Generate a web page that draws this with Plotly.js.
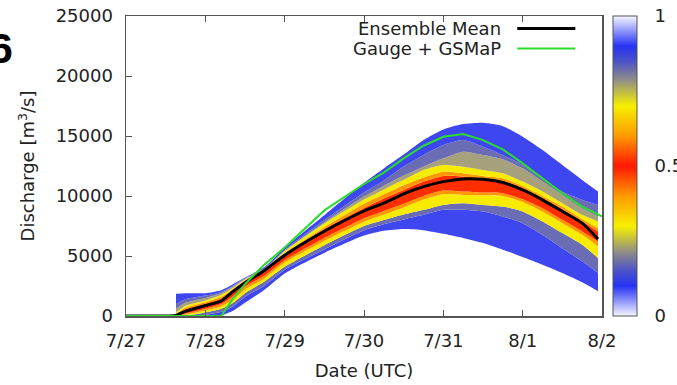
<!DOCTYPE html>
<html><head><meta charset="utf-8">
<script src="https://cdn.plot.ly/plotly-3.0.1.min.js"></script>
<style>html,body{margin:0;padding:0;background:#fff}#chart{width:677px;height:385px}</style>
</head><body><div id="chart"></div>
<script>
// x axis: days since 7/27 00 UTC
const tickDays = [0, 1, 2, 3, 4, 5, 6];
const tickLabels = ['7/27', '7/28', '7/29', '7/30', '7/31', '8/1', '8/2'];

// ensemble quantile envelopes (m3/s)
const bandTime = [0.63, 0.75, 1.0, 1.2, 1.35, 1.5, 1.75, 2.0, 2.5, 3.0, 3.25, 3.5, 3.75, 4.0, 4.25, 4.5, 4.75, 5.0, 5.25, 5.5, 5.75, 5.95];
const q00  = [0, 0, 0, 50, 440, 1100, 2215, 3544, 5260, 6700, 7100, 7250, 7150, 6850, 6500, 6077, 5523, 4914, 4278, 3585, 2810, 2063];
const q10  = [0, 0, 100, 350, 800, 1600, 2550, 3850, 5550, 7150, 7650, 8050, 8430, 8846, 8846, 8707, 8292, 7738, 6770, 5650, 4555, 3585];
const q20  = [0, 50, 300, 600, 1100, 1900, 2900, 4100, 5900, 7500, 8000, 8450, 8846, 9260, 9399, 9260, 9122, 8707, 7877, 6908, 5939, 4830];
const q30  = [0, 100, 450, 800, 1350, 2200, 3150, 4450, 6250, 7850, 8450, 9050, 9700, 10150, 10090, 10063, 10008, 9510, 8707, 7738, 6770, 5800];
const q40  = [0, 200, 600, 1000, 1650, 2450, 3400, 4650, 6500, 8150, 8750, 9350, 10000, 10450, 10368, 10285, 10230, 9731, 8984, 8015, 7046, 6215];
const q60  = [80, 550, 1000, 1450, 2100, 2850, 3800, 5150, 7250, 9000, 9800, 10500, 11200, 11670, 11614, 11475, 11281, 10673, 9843, 8929, 7877, 7046];
const q70  = [150, 700, 1150, 1600, 2250, 2950, 3850, 5250, 7400, 9350, 10150, 10900, 11550, 12030, 11890, 11670, 11475, 10838, 10008, 9122, 8070, 7323];
const q80  = [300, 850, 1300, 1750, 2350, 3050, 3900, 5400, 7700, 9700, 10550, 11350, 12168, 12583, 12445, 12168, 11890, 11198, 10368, 9399, 8430, 7877];
const q90  = [600, 1100, 1500, 1900, 2450, 3100, 3950, 5430, 7800, 9950, 10850, 11700, 12445, 13137, 13690, 13414, 13054, 12306, 11198, 10090, 8984, 8292];
const q95  = [1000, 1400, 1700, 2000, 2550, 3150, 4000, 5500, 8000, 10300, 11300, 12450, 13414, 14245, 14660, 14106, 13414, 12583, 11475, 10368, 9676, 9260];
const q100 = [1850, 1900, 1900, 2150, 2650, 3200, 4100, 5700, 8400, 11100, 12300, 13450, 14660, 15545, 15990, 16100, 15820, 14937, 13829, 12583, 11337, 10368];
const bandLevels = [0, 0.1, 0.2, 0.3, 0.4, 0.6, 0.7, 0.8, 0.9, 0.95, 1.0];

// ensemble mean
const meanTime = [0, 0.55, 0.63, 0.75, 1.0, 1.2, 1.35, 1.5, 1.75, 2.0, 2.5, 3.0, 3.25, 3.5, 3.75, 4.0, 4.25, 4.5, 4.75, 5.0, 5.25, 5.5, 5.75, 5.95];
const meanQ    = [0, 0, 50, 400, 870, 1250, 2050, 2770, 3820, 5065, 7060, 8750, 9400, 10175, 10780, 11200, 11420, 11390, 11120, 10510, 9680, 8710, 7740, 6410];

// Gauge + GSMaP simulation
const obsTime = [0, 1.2, 1.35, 1.5, 1.75, 2.0, 2.5, 3.0, 3.25, 3.5, 3.75, 4.0, 4.25, 4.5, 4.75, 5.0, 5.25, 5.5, 5.75, 6.0];
const obsQ    = [0, 0, 1470, 2660, 4320, 5700, 8800, 11000, 11945, 13140, 14190, 14935, 15160, 14660, 13880, 12720, 11480, 10230, 9120, 8300];

const curves = [q00, q10, q20, q30, q40, q60, q70, q80, q90, q95, q100];
const bandColors = [null, '#3d46ef', '#6a6db4', '#f7ec00', '#ff9800', '#ff2e00', '#ff9800', '#f7ec00', '#a7a07c', '#6a6db4', '#3d46ef'];

const colorscale = [
  [0, '#f6f6ff'], [0.04, '#a4a9ff'], [0.1, '#2532f2'], [0.15, '#4a52c8'], [0.21, '#8c8a8a'],
  [0.3, '#f6f000'], [0.4, '#ff9a00'], [0.5, '#ff1800'], [0.6, '#ff9a00'], [0.7, '#f6f000'],
  [0.79, '#8c8a8a'], [0.85, '#4a52c8'], [0.9, '#2532f2'], [0.96, '#a4a9ff'], [1, '#f6f6ff']
];

const traces = curves.map((c, i) => {
  const tr = {
    x: bandTime, y: c, type: 'scatter', mode: 'lines',
    line: {width: 0, shape: 'spline', smoothing: 0.6},
    fill: i === 0 ? 'none' : 'tonexty',
    fillcolor: bandColors[i] || 'rgba(0,0,0,0)',
    showlegend: false, hoverinfo: 'skip'
  };
  if (i === curves.length - 1) {
    tr.mode = 'lines+markers';
    tr.marker = {
      size: 0, opacity: 0,
      color: bandTime.map(() => bandLevels[i]),
      colorscale: colorscale, cmin: 0, cmax: 1, showscale: true,
      colorbar: {
        x: 1.0238, xanchor: 'left', xref: 'paper', y: 0.5, yanchor: 'middle',
        len: 1, lenmode: 'fraction', thickness: 24, thicknessmode: 'pixels',
        outlinewidth: 1, outlinecolor: '#555', xpad: 0, ypad: 0,
        tickvals: [0, 0.5, 1], ticktext: ['0', '0.5', '1'],
        ticks: 'outside', ticklen: 14, tickcolor: 'rgba(0,0,0,0)',
        tickfont: {size: 18, color: '#222'}
      }
    };
  }
  return tr;
});

traces.push({
  x: meanTime, y: meanQ, type: 'scatter', mode: 'lines',
  line: {color: '#000', width: 3, shape: 'spline', smoothing: 0.6},
  showlegend: false, hoverinfo: 'skip', name: 'Ensemble Mean'
});
traces.push({
  x: obsTime, y: obsQ, type: 'scatter', mode: 'lines',
  line: {color: '#2bdc2b', width: 2},
  showlegend: false, hoverinfo: 'skip', name: 'Gauge + GSMaP'
});

const layout = {
  width: 677, height: 385,
  margin: {l: 126, r: 75.3, t: 15.5, b: 68.5, autoexpand: false},
  paper_bgcolor: '#fff', plot_bgcolor: '#fff',
  font: {family: 'DejaVu Sans, sans-serif', size: 18, color: '#222'},
  showlegend: false,
  xaxis: {
    range: [0, 6], tickvals: tickDays, ticktext: tickLabels,
    ticks: 'inside', ticklen: 6, tickcolor: '#555', tickwidth: 1,
    showline: true, linecolor: '#555', linewidth: 1.5, mirror: 'ticks',
    showgrid: false, zeroline: false, ticklabelstandoff: 8,
    title: {text: 'Date (UTC)', standoff: 14, font: {size: 18}}
  },
  yaxis: {
    range: [0, 25000], tickvals: [0, 5000, 10000, 15000, 20000, 25000], tickformat: 'd',
    ticks: 'inside', ticklen: 6, tickcolor: '#555', tickwidth: 1,
    showline: true, linecolor: '#555', linewidth: 1.5, mirror: true,
    showgrid: false, zeroline: false, ticklabelstandoff: 8,
    title: {text: 'Discharge [m<sup>3</sup>/s]', standoff: 16, font: {size: 18}}
  },
  shapes: [
    {type: 'line', xref: 'paper', yref: 'paper', x0: 0.822, x1: 0.944, y0: 0.9585, y1: 0.9585, line: {color: '#000', width: 3}},
    {type: 'line', xref: 'paper', yref: 'paper', x0: 0.822, x1: 0.944, y0: 0.892, y1: 0.892, line: {color: '#2bdc2b', width: 2}}
  ],
  annotations: [
    {xref: 'paper', yref: 'paper', x: 0.7925, y: 0.9585, xanchor: 'right', yanchor: 'middle', showarrow: false,
     text: 'Ensemble Mean', font: {size: 18, color: '#222'}},
    {xref: 'paper', yref: 'paper', x: 0.7925, y: 0.892, xanchor: 'right', yanchor: 'middle', showarrow: false,
     text: 'Gauge + GSMaP', font: {size: 18, color: '#222'}},
    {xref: 'paper', yref: 'paper', x: -0.2333, y: 0.8937, xanchor: 'right', yanchor: 'middle', showarrow: false,
     text: '<b>6</b>', font: {family: 'Liberation Sans, Arial, sans-serif', size: 43, color: '#000'}}
  ]
};

Plotly.newPlot('chart', traces, layout, {displayModeBar: false, staticPlot: true});
</script>
</body></html>
